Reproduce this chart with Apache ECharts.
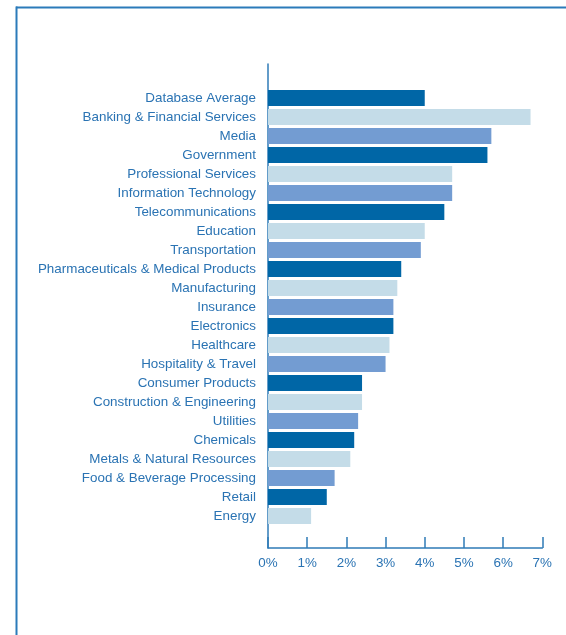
<!DOCTYPE html>
<html>
<head>
<meta charset="utf-8">
<script src="https://cdn.jsdelivr.net/npm/echarts@6/dist/echarts.min.js"></script>
<style>
html,body{margin:0;padding:0;background:#fff;}
#chart{width:566px;height:635px;}
</style>
</head>
<body>
<div id="chart"></div>
<script>
var categories = [
  'Database Average','Banking & Financial Services','Media','Government',
  'Professional Services','Information Technology','Telecommunications','Education',
  'Transportation','Pharmaceuticals & Medical Products','Manufacturing','Insurance',
  'Electronics','Healthcare','Hospitality & Travel','Consumer Products',
  'Construction & Engineering','Utilities','Chemicals','Metals & Natural Resources',
  'Food & Beverage Processing','Retail','Energy'
];
var values = [4.0,6.7,5.7,5.6,4.7,4.7,4.5,4.0,3.9,3.4,3.3,3.2,3.2,3.1,3.0,2.4,2.4,2.3,2.2,2.1,1.7,1.5,1.1];
var xTicks = [0,1,2,3,4,5,6,7];
var palette = ['#0066a6','#c4dce8','#739cd2'];

var textColor = '#2a73b3';
var axisColor = '#2f7bb7';
var fontFamily = '"Liberation Sans", Arial, Helvetica, sans-serif';

var chart = echarts.init(document.getElementById('chart'), null, {renderer:'canvas'});
var option = {
  animation: false,
  backgroundColor: '#ffffff',
  grid: [
    {left: 268, right: 23.7, top: 88.5, height: 437},
    {left: 268, right: 23.7, top: 64, height: 484}
  ],
  xAxis: [
    {gridIndex: 0, type: 'value', min: xTicks[0], max: xTicks[xTicks.length-1], interval: 1,
     show: false},
    {gridIndex: 1, type: 'value', min: xTicks[0], max: xTicks[xTicks.length-1], interval: 1,
     axisLine: {show: true, lineStyle: {color: axisColor, width: 1.5}},
     axisTick: {show: true, inside: true, length: 11, lineStyle: {color: axisColor, width: 1.5}},
     splitLine: {show: false},
     axisLabel: {color: textColor, fontSize: 13.4, fontFamily: fontFamily, margin: 9,
       formatter: function (v) { return v + '%'; }}}
  ],
  yAxis: [
    {gridIndex: 0, type: 'category', inverse: true, data: categories,
     axisLine: {show: false}, axisTick: {show: false},
     axisLabel: {color: textColor, fontSize: 13.4, fontFamily: fontFamily, margin: 12,
       padding: [0, 0, 4, 0]}},
    {gridIndex: 1, type: 'value', min: 0, max: 1,
     axisLine: {show: true, lineStyle: {color: axisColor, width: 1.5}},
     axisTick: {show: false}, axisLabel: {show: false}, splitLine: {show: false}}
  ],
  series: [{
    type: 'bar',
    xAxisIndex: 0, yAxisIndex: 0,
    barWidth: 16,
    data: values.map(function (v, i) {
      return {value: v, itemStyle: {color: palette[i % 3]}};
    })
  }],
  graphic: [
    {type: 'line', shape: {x1: 16, y1: 7.5, x2: 566, y2: 7.5}, style: {stroke: '#2b7bba', lineWidth: 2}},
    {type: 'line', shape: {x1: 16.5, y1: 6.5, x2: 16.5, y2: 635}, style: {stroke: '#2b7bba', lineWidth: 2}}
  ]
};
chart.setOption(option);
</script>
</body>
</html>
